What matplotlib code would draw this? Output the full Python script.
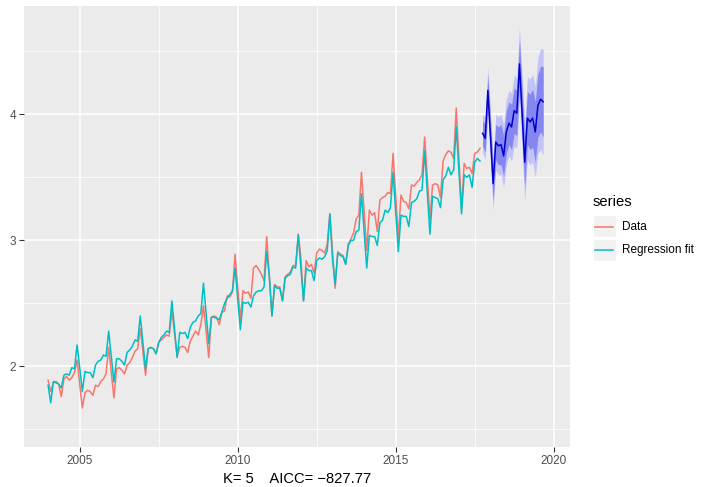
import numpy as np
import matplotlib.pyplot as plt
from matplotlib.patches import Rectangle
from matplotlib.lines import Line2D

plt.rcParams['font.family'] = ['Liberation Sans', 'DejaVu Sans']

# monthly series, Jan 2004 .. Sep 2017 (log scale values)
data_2004 = [1.89, 1.80, 1.87, 1.88, 1.86, 1.76, 1.90, 1.92, 1.89, 1.91, 1.95, 2.05]
data_2005 = [1.86, 1.67, 1.79, 1.81, 1.80, 1.77, 1.85, 1.84, 1.88, 1.90, 1.94, 2.15]
data_2006 = [1.95, 1.75, 1.98, 1.99, 1.97, 1.94, 2.01, 2.03, 2.07, 2.12, 2.14, 2.30]
data_2007 = [2.12, 1.93, 2.14, 2.15, 2.14, 2.10, 2.19, 2.21, 2.23, 2.25, 2.24, 2.44]
data_2008 = [2.26, 2.08, 2.15, 2.16, 2.15, 2.11, 2.20, 2.24, 2.28, 2.25, 2.33, 2.48]
data_2009 = [2.28, 2.07, 2.39, 2.40, 2.39, 2.33, 2.43, 2.44, 2.56, 2.55, 2.59, 2.89]
data_2010 = [2.63, 2.37, 2.60, 2.58, 2.59, 2.54, 2.78, 2.80, 2.77, 2.73, 2.68, 3.03]
data_2011 = [2.72, 2.40, 2.65, 2.63, 2.63, 2.52, 2.71, 2.73, 2.75, 2.80, 2.80, 3.05]
data_2012 = [2.86, 2.52, 2.84, 2.79, 2.81, 2.74, 2.90, 2.93, 2.92, 2.90, 2.97, 3.21]
data_2013 = [2.92, 2.62, 2.91, 2.89, 2.88, 2.81, 2.97, 3.01, 3.06, 3.17, 3.20, 3.54]
data_2014 = [3.23, 2.92, 3.24, 3.20, 3.22, 3.07, 3.32, 3.34, 3.35, 3.38, 3.37, 3.69]
data_2015 = [3.36, 3.02, 3.36, 3.31, 3.30, 3.25, 3.44, 3.43, 3.46, 3.48, 3.52, 3.82]
data_2016 = [3.50, 3.17, 3.44, 3.45, 3.44, 3.34, 3.63, 3.68, 3.71, 3.70, 3.65, 4.05]
data_2017 = [3.65, 3.25, 3.61, 3.57, 3.58, 3.53, 3.69, 3.70, 3.73]

fit_2004 = [1.85, 1.71, 1.88, 1.87, 1.86, 1.83, 1.93, 1.94, 1.93, 1.99, 1.98, 2.17]
fit_2005 = [1.99, 1.80, 1.96, 1.95, 1.95, 1.91, 2.01, 2.04, 2.05, 2.09, 2.08, 2.28]
fit_2006 = [2.08, 1.875, 2.06, 2.06, 2.04, 2.01, 2.11, 2.13, 2.16, 2.21, 2.20, 2.40]
fit_2007 = [2.19, 1.98, 2.14, 2.15, 2.14, 2.10, 2.19, 2.23, 2.25, 2.28, 2.27, 2.52]
fit_2008 = [2.30, 2.07, 2.27, 2.26, 2.27, 2.22, 2.31, 2.35, 2.36, 2.40, 2.42, 2.66]
fit_2009 = [2.42, 2.18, 2.39, 2.39, 2.38, 2.37, 2.43, 2.50, 2.54, 2.57, 2.60, 2.78]
fit_2010 = [2.53, 2.29, 2.51, 2.50, 2.51, 2.47, 2.56, 2.59, 2.60, 2.60, 2.63, 2.91]
fit_2011 = [2.72, 2.40, 2.64, 2.62, 2.62, 2.52, 2.70, 2.72, 2.73, 2.79, 2.78, 3.04]
fit_2012 = [2.78, 2.52, 2.78, 2.76, 2.76, 2.68, 2.84, 2.86, 2.85, 2.87, 2.92, 3.21]
fit_2013 = [2.85, 2.65, 2.90, 2.88, 2.87, 2.81, 2.96, 3.00, 3.00, 3.07, 3.08, 3.37]
fit_2014 = [3.08, 2.78, 3.04, 3.03, 3.03, 2.96, 3.14, 3.16, 3.24, 3.22, 3.26, 3.54]
fit_2015 = [3.23, 2.91, 3.20, 3.19, 3.19, 3.11, 3.30, 3.31, 3.33, 3.39, 3.40, 3.71]
fit_2016 = [3.38, 3.05, 3.35, 3.34, 3.33, 3.26, 3.48, 3.51, 3.58, 3.52, 3.56, 3.90]
fit_2017 = [3.56, 3.21, 3.52, 3.50, 3.52, 3.42, 3.62, 3.65, 3.63]

# forecast Oct 2017 .. Sep 2019
fc_mean = [3.85, 3.81, 4.19, 3.82, 3.45, 3.78, 3.75, 3.76, 3.67, 3.86, 3.93, 3.90,
           4.03, 4.01, 4.40, 4.01, 3.62, 3.97, 3.94, 3.97, 3.86, 4.07, 4.12, 4.10]
fc_half95 = [0.15, 0.17, 0.19, 0.20, 0.21, 0.22, 0.23, 0.24, 0.25, 0.26, 0.26, 0.27,
             0.28, 0.28, 0.29, 0.30, 0.31, 0.33, 0.34, 0.35, 0.36, 0.38, 0.40, 0.42]
fc_half80 = [0.10, 0.11, 0.12, 0.13, 0.14, 0.14, 0.15, 0.16, 0.16, 0.17, 0.17, 0.18,
             0.18, 0.18, 0.19, 0.20, 0.20, 0.21, 0.22, 0.23, 0.24, 0.25, 0.26, 0.28]

x_ticks = [2005, 2010, 2015, 2020]
y_ticks = [2, 3, 4]
series_labels = ["Data", "Regression fit"]
footer = "K= 5    AICC= \u2212827.77"

W, H = 707, 487


def fx(px):
    return px / W


def fy(py):
    return 1 - py / H


def main():
    data = np.array(data_2004 + data_2005 + data_2006 + data_2007 + data_2008 +
                    data_2009 + data_2010 + data_2011 + data_2012 + data_2013 +
                    data_2014 + data_2015 + data_2016 + data_2017)
    fit = np.array(fit_2004 + fit_2005 + fit_2006 + fit_2007 + fit_2008 +
                   fit_2009 + fit_2010 + fit_2011 + fit_2012 + fit_2013 +
                   fit_2014 + fit_2015 + fit_2016 + fit_2017)
    t = 2004 + np.arange(len(data)) / 12
    mean = np.array(fc_mean)
    t_fc = t[-1] + (np.arange(len(mean)) + 1) / 12
    h95 = np.array(fc_half95)
    h80 = np.array(fc_half80)

    fig = plt.figure(figsize=(W / 100, H / 100), dpi=100)
    ax = fig.add_axes([fx(24), fy(447), fx(570) - fx(24), fy(6) - fy(447)])
    ax.set_facecolor("#EBEBEB")

    # grid (ggplot style)
    for v in [2007.5, 2012.5, 2017.5]:
        ax.axvline(v, color="white", lw=0.55, zorder=0)
    for v in [1.5, 2.5, 3.5, 4.5]:
        ax.axhline(v, color="white", lw=0.55, zorder=0)
    for v in x_ticks:
        ax.axvline(v, color="white", lw=1.1, zorder=0)
    for v in y_ticks:
        ax.axhline(v, color="white", lw=1.1, zorder=0)

    ax.plot(t, data, color="#F8766D", lw=1.1, zorder=2)
    ax.plot(t, fit, color="#00BFC4", lw=1.1, zorder=3)

    ax.fill_between(t_fc, mean - h95, mean + h95, color="#C3C3F7", lw=0, zorder=2)
    ax.fill_between(t_fc, mean - h80, mean + h80, color="#8686F0", lw=0, zorder=2)
    ax.plot(t_fc, mean, color="#0000CC", lw=1.1, zorder=4)

    ax.set_xlim(2003.237, 2020.516)
    ax.set_ylim(1.36, 4.86)
    ax.set_xticks(x_ticks)
    ax.set_yticks(y_ticks)
    ax.tick_params(axis="both", colors="#333333", labelcolor="#4D4D4D",
                   labelsize=8.45, length=3.7, width=0.8, pad=2)
    for s in ax.spines.values():
        s.set_visible(False)
    ax.set_xlabel(footer, fontsize=10.6, color="black", labelpad=4)

    # legend drawn by hand so keys get the grey boxes
    fig.text(fx(593), fy(202), "series", fontsize=10.6, va="center", ha="left")
    cols = ["#F8766D", "#00BFC4"]
    for k, (lab, c) in enumerate(zip(series_labels, cols)):
        top = 215 + k * 23.5
        fig.add_artist(Rectangle((fx(593), fy(top + 22.5)), fx(22.5), fy(0) - fy(22.5),
                                 transform=fig.transFigure, facecolor="#F2F2F2",
                                 edgecolor="white", lw=0.8))
        yc = fy(top + 11.5)
        fig.add_artist(Line2D([fx(595), fx(613)], [yc, yc], transform=fig.transFigure,
                              color=c, lw=1.1))
        fig.text(fx(622), yc, lab, fontsize=8.45, va="center", ha="left")

    fig.savefig("out.png", dpi=100)


if __name__ == "__main__":
    main()
